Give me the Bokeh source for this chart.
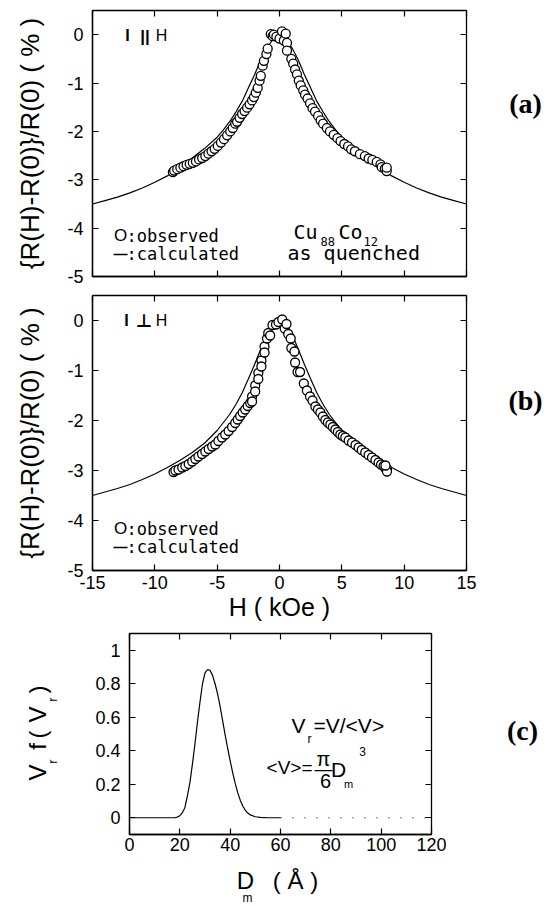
from math import pi

from bokeh.plotting import figure
from bokeh.models import Range1d, LinearAxis, FixedTicker, Label
from bokeh.embed import file_html
from bokeh.resources import INLINE

# ---------------------------------------------------------------- data
# magnetic field (kOe) for the calculated curves
h_calc = [-15, -14, -13, -12, -11, -10, -9, -8, -7, -6, -5, -4.5, -4, -3.5, -3, -2.5, -2,
          -1.5, -1, -0.5, 0, 0.5, 1, 1.5, 2, 2.5, 3, 3.5, 4, 4.5, 5, 6, 7, 8, 9, 10, 11,
          12, 13, 14, 15]

# (a) I parallel H : calculated MR (%)
mr_calc_a = [-3.50, -3.43, -3.36, -3.27, -3.17, -3.05, -2.92, -2.74, -2.55, -2.35, -2.12,
             -1.97, -1.80, -1.60, -1.38, -1.10, -0.83, -0.52, -0.27, -0.08, 0.00, -0.08,
             -0.27, -0.52, -0.83, -1.10, -1.38, -1.60, -1.80, -1.97, -2.12, -2.35, -2.55,
             -2.74, -2.92, -3.05, -3.17, -3.27, -3.36, -3.43, -3.50]

# (a) observed
h_obs_a = [-8.55, -8.45, -8.2, -7.95, -7.7, -7.45, -7.2, -6.95, -6.7, -6.45, -6.2, -5.95,
           -5.7, -5.45, -5.2, -4.95, -4.7, -4.45, -4.2, -3.95, -3.75, -3.55, -3.4, -3.2,
           -3.0, -2.8, -2.6, -2.4, -2.2, -2.05, -1.9, -1.75, -1.6, -1.5, -1.35, -1.25,
           -1.05, -0.95, -0.7, -0.55, -0.45, -0.25, 0.0, 0.2, 0.35, 0.5, 0.6, 0.6, 0.95,
           1.1, 1.25, 1.4, 1.55, 1.7, 1.9, 2.05, 2.25, 2.45, 2.65, 2.85, 3.1, 3.3, 3.5,
           3.8, 4.05, 4.35, 4.65, 4.9, 5.2, 5.5, 5.75, 6.05, 6.45, 6.85, 7.15, 7.45, 7.8,
           8.1, 8.2, 8.45, 8.6, 8.6]
mr_obs_a = [-2.84, -2.81, -2.78, -2.75, -2.72, -2.69, -2.67, -2.65, -2.62, -2.58, -2.55,
            -2.51, -2.46, -2.41, -2.36, -2.30, -2.23, -2.16, -2.08, -2.00, -1.93, -1.84,
            -1.80, -1.72, -1.64, -1.58, -1.51, -1.44, -1.36, -1.29, -1.20, -1.10, -0.95,
            -0.85, -0.64, -0.54, -0.40, -0.29, 0.01, -0.03, 0.0, -0.04, -0.08, 0.07,
            -0.12, 0.02, -0.17, -0.33, -0.50, -0.60, -0.72, -0.82, -0.95, -1.05, -1.15,
            -1.24, -1.32, -1.42, -1.52, -1.59, -1.68, -1.77, -1.84, -1.93, -2.00, -2.07,
            -2.14, -2.20, -2.26, -2.31, -2.37, -2.41, -2.47, -2.51, -2.56, -2.59, -2.63,
            -2.68, -2.74, -2.77, -2.82, -2.75]

# (b) I perpendicular H : calculated MR (%)
mr_calc_b = [-3.50, -3.43, -3.36, -3.28, -3.18, -3.07, -2.94, -2.80, -2.64, -2.45, -2.20,
             -2.04, -1.88, -1.68, -1.45, -1.17, -0.88, -0.57, -0.27, -0.07, 0.00, -0.07,
             -0.27, -0.57, -0.88, -1.17, -1.45, -1.68, -1.88, -2.04, -2.20, -2.45, -2.64,
             -2.80, -2.94, -3.07, -3.18, -3.28, -3.36, -3.43, -3.50]

# (b) observed
h_obs_b = [-8.5, -8.35, -8.1, -7.8, -7.55, -7.28, -7.0, -6.75, -6.5, -6.21, -5.95, -5.68,
           -5.4, -5.15, -4.9, -4.61, -4.35, -4.08, -3.8, -3.55, -3.35, -3.15, -2.95,
           -2.75, -2.55, -2.35, -2.2, -2.2, -1.95, -1.95, -1.7, -1.7, -1.45, -1.45, -1.2,
           -1.2, -1.0, -0.9, -0.75, -0.56, -0.28, -0.08, 0.22, 0.42, 0.56, 0.7, 0.9, 0.95,
           1.2, 1.25, 1.45, 1.65, 1.95, 2.2, 2.45, 2.65, 2.88, 3.08, 3.28, 3.48, 3.68,
           3.88, 4.08, 4.28, 4.48, 4.68, 4.88, 5.08, 5.28, 5.55, 5.82, 6.1, 6.35, 6.6,
           6.88, 7.15, 7.42, 7.7, 7.95, 8.15, 8.35, 8.5, 8.62, 8.62, 8.5]
mr_obs_b = [-3.03, -3.00, -2.98, -2.94, -2.91, -2.87, -2.82, -2.77, -2.72, -2.67, -2.62,
            -2.57, -2.52, -2.48, -2.41, -2.34, -2.28, -2.21, -2.13, -2.05, -1.98, -1.91,
            -1.84, -1.78, -1.71, -1.65, -1.52, -1.62, -1.30, -1.42, -1.05, -1.17, -0.80,
            -0.92, -0.52, -0.64, -0.36, -0.25, -0.30, -0.09, -0.08, -0.03, 0.02, -0.16,
            -0.07, -0.27, -0.36, -0.55, -0.62, -0.84, -1.03, -1.03, -1.26, -1.40, -1.52,
            -1.60, -1.72, -1.78, -1.84, -1.92, -1.99, -2.04, -2.08, -2.13, -2.18, -2.23,
            -2.28, -2.31, -2.34, -2.40, -2.44, -2.49, -2.54, -2.59, -2.64, -2.69, -2.74,
            -2.79, -2.84, -2.88, -2.91, -2.96, -2.97, -3.02, -2.90]

# (c) size distribution V_r f(V_r) against D_m (Angstrom)
d_m = [0, 5, 10, 15, 18, 19, 20, 21, 22, 23, 24, 25, 26, 27, 28, 29, 30, 31, 32, 33, 34,
       35, 36, 37, 38, 39, 40, 41, 42, 43, 44, 45, 46, 47, 48, 50, 52, 55, 60]
vf_dist = [0, 0, 0, 0, 0, 0.004, 0.012, 0.03, 0.06, 0.13, 0.21, 0.32, 0.44, 0.57, 0.69,
           0.80, 0.865, 0.885, 0.88, 0.85, 0.80, 0.74, 0.665, 0.58, 0.495, 0.415, 0.34,
           0.27, 0.205, 0.15, 0.105, 0.07, 0.045, 0.028, 0.017, 0.006, 0.002, 0, 0]
d_tail = [60, 120]
vf_tail = [0, 0]

# ticks
mr_ticks = [-5, -4, -3, -2, -1, 0]
mr_tick_labels = ["-5", "-4", "-3", "-2", "-1", "0"]
h_ticks = [-15, -10, -5, 0, 5, 10, 15]
h_tick_labels = ["-15", "-10", "-5", "0", "5", "10", "15"]
d_ticks = [0, 20, 40, 60, 80, 100, 120]
d_tick_labels = ["0", "20", "40", "60", "80", "100", "120"]
vf_ticks = [0, 0.2, 0.4, 0.6, 0.8, 1.0]
vf_tick_labels = ["0", "0.2", "0.4", "0.6", "0.8", "1"]

# ---------------------------------------------------------------- layout
W, H = 549, 906
SANS = "Liberation Sans"
MONO = "DejaVu Sans Mono"
SERIF = "Liberation Serif"

# frame box of each panel in page pixels, with the page band the figure occupies
GA = dict(left=92, right=466, top=10, bottom=276, x=(-15, 15), y=(-5, 0.5), page=(0, 286))
GB = dict(left=92, right=466, top=295, bottom=570, x=(-15, 15), y=(-5, 0.5), page=(286, 625))
GC = dict(left=129, right=431, top=633, bottom=834, x=(0, 120), y=(-0.1, 1.1), page=(625, 906))


def at(top):
    return {"position": "absolute", "left": "0px", "top": f"{top}px"}


def style_axis(ax, ticks, labels, show_labels, standoff):
    ax.ticker = FixedTicker(ticks=ticks)
    ax.major_label_overrides = {t: l for t, l in zip(ticks, labels)}
    ax.major_tick_in = 6
    ax.major_tick_out = 0
    ax.major_tick_line_color = "black"
    ax.major_tick_line_width = 1.2
    ax.minor_tick_line_color = None
    ax.axis_line_color = "black"
    ax.axis_line_width = 1.3
    ax.major_label_standoff = standoff
    ax.axis_label_text_color = "black"
    if show_labels:
        ax.major_label_text_font = SANS
        ax.major_label_text_font_size = "18px"
        ax.major_label_text_color = "black"
    else:
        ax.major_label_text_font_size = "0px"
        ax.major_label_text_color = None


def mirror_axis(p, loc, ticks):
    ax = LinearAxis()
    style_axis(ax, ticks, [""] * len(ticks), False, 0)
    ax.axis_line_color = None
    p.add_layout(ax, loc)


def make_panel(g, xticks, xlabels, yticks, ylabels, show_xlabels):
    top, bottom = g["page"]
    p = figure(width=W, height=bottom - top,
               x_range=Range1d(*g["x"]), y_range=Range1d(*g["y"]),
               output_backend="svg", toolbar_location=None, styles=at(top),
               min_border_left=g["left"], min_border_right=W - g["right"],
               min_border_top=g["top"] - top, min_border_bottom=bottom - g["bottom"])
    p.xgrid.visible = False
    p.ygrid.visible = False
    p.outline_line_color = "black"
    p.outline_line_width = 1.3
    p.background_fill_color = "white"
    p.border_fill_color = "white"
    xax, yax = p.xaxis[0], p.yaxis[0]
    style_axis(xax, xticks, xlabels, show_xlabels, 5 if show_xlabels else 0)
    style_axis(yax, yticks, ylabels, True, 9)
    mirror_axis(p, "above", xticks)
    mirror_axis(p, "right", yticks)
    return p, xax, yax


def mr_panel(g, mr_calc, h_obs, mr_obs, show_xlabels):
    p, xax, yax = make_panel(g, h_ticks, h_tick_labels, mr_ticks, mr_tick_labels,
                             show_xlabels)
    p.line(h_calc, mr_calc, line_color="black", line_width=1.2)
    p.scatter(h_obs, mr_obs, marker="circle", size=9, line_color="black",
              line_width=1.3, fill_color="white")
    yax.axis_label = "{R(H)-R(0)}/R(0) ( % )"
    yax.axis_label_text_font = SANS
    yax.axis_label_text_font_size = "26px"
    yax.axis_label_text_font_style = "normal"
    yax.axis_label_standoff = 19
    return p, xax, yax


# ---------------------------------------------------------------- panels
pa, _, _ = mr_panel(GA, mr_calc_a, h_obs_a, mr_obs_a, False)

pb, xb, _ = mr_panel(GB, mr_calc_b, h_obs_b, mr_obs_b, True)
xb.axis_label = "H ( kOe )"
xb.axis_label_text_font = SANS
xb.axis_label_text_font_size = "25px"
xb.axis_label_text_font_style = "normal"
xb.axis_label_standoff = 1

pc, xc, _ = make_panel(GC, d_ticks, d_tick_labels, vf_ticks, vf_tick_labels, True)
xc.major_label_standoff = 3
pc.line(d_m, vf_dist, line_color="black", line_width=1.2)
pc.line(d_tail, vf_tail, line_color="black", line_width=1.2, line_dash="1 11")

# ---------------------------------------------------------------- text layer
# transparent sheet over the whole page, in page pixels, for all free text
sheet = figure(width=W, height=H, x_range=Range1d(0, W), y_range=Range1d(H, 0),
               output_backend="svg", toolbar_location=None, styles=at(0),
               min_border=0, x_axis_type=None, y_axis_type=None)
sheet.xgrid.visible = False
sheet.ygrid.visible = False
sheet.outline_line_color = None
sheet.background_fill_alpha = 0
sheet.border_fill_alpha = 0


def put(px, py, s, size, font=SANS, style="normal", angle=0.0, align="center"):
    sheet.add_layout(Label(x=px, y=py, text=s, text_font=font, text_font_size=f"{size}px",
                           text_font_style=style, angle=angle, text_align=align,
                           text_baseline="middle", text_color="black"))


def legend_rows(y1, y2):
    put(120, y1, "O", 17)
    put(126, y1, ":observed", 17, font=MONO, align="left")
    put(120, y2, "—", 14, style="bold")
    put(126, y2, ":calculated", 17, font=MONO, align="left")


# (a)
put(127, 35, "I", 16, style="bold")
put(144.5, 36, "||", 17, style="bold")
put(161, 35, "H", 16)
put(293, 231, "Cu", 20, font=MONO, align="left")
put(320, 241, "88", 12, font=MONO, align="left")
put(338, 231, "Co", 20, font=MONO, align="left")
put(363, 241, "12", 12, font=MONO, align="left")
put(287, 252, "as quenched", 20, font=MONO, align="left")
legend_rows(235, 253)
put(525, 103, "(a)", 28, font=SERIF, style="bold")

# (b)
put(126, 320, "I", 16, style="bold")
put(143.5, 320, "⊥", 18, font="DejaVu Sans", style="bold")
put(161, 320, "H", 16)
legend_rows(528, 546)
put(525, 400, "(b)", 28, font=SERIF, style="bold")

# (c) axis titles  V_r f(V_r)  and  D_m ( Å )
put(37, 772, "V", 24, angle=pi / 2)
put(52, 761, "r", 13, angle=pi / 2)
put(37, 746, "f", 24, angle=pi / 2)
put(37, 734, "(", 24, angle=pi / 2)
put(37, 714, "V", 24, angle=pi / 2)
put(52, 699, "r", 13, angle=pi / 2)
put(37, 689, ")", 24, angle=pi / 2)
put(245, 880, "D", 24)
put(247, 897, "m", 12)
put(295, 880, "( Å )", 24)

# (c) relations
put(298, 725, "V", 21)
put(309, 738, "r", 12)
put(313, 725, "=V/<V>", 21, align="left")
put(312, 767, "<V>=", 19, align="right")
put(323, 758, "π", 20)
put(323, 768, "—", 18)
put(325, 780, "6", 20)
put(338, 769, "D", 21)
put(348, 783, "m", 11)
put(362, 751, "3", 12)
put(522, 730, "(c)", 28, font=SERIF, style="bold")

open("out.html", "w").write(file_html([pa, pb, pc, sheet], INLINE))
